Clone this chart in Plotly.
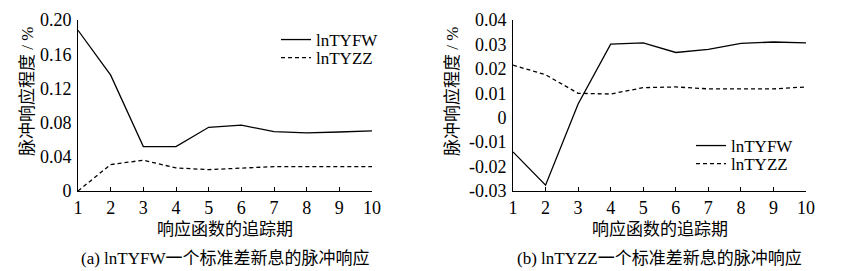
import plotly.graph_objects as go

periods = [1, 2, 3, 4, 5, 6, 7, 8, 9, 10]
# (a) shock from lnTYFW
a_tyfw = [0.188, 0.1355, 0.052, 0.052, 0.0745, 0.077, 0.0695, 0.068, 0.069, 0.0703]
a_tyzz = [0.0, 0.031, 0.036, 0.027, 0.025, 0.0265, 0.0285, 0.0285, 0.0285, 0.0285]
# (b) shock from lnTYZZ
b_tyfw = [-0.014, -0.0276, 0.0056, 0.0301, 0.0306, 0.0267, 0.028, 0.0304, 0.031, 0.0306]
b_tyzz = [0.0215, 0.0176, 0.0100, 0.0097, 0.0123, 0.0126, 0.0118, 0.0118, 0.0118, 0.0126]

a_yticks = [0, 0.04, 0.08, 0.12, 0.16, 0.20]
a_yticktext = ["0", "0.04", "0.08", "0.12", "0.16", "0.20"]
b_yticks = [-0.03, -0.02, -0.01, 0, 0.01, 0.02, 0.03, 0.04]
b_yticktext = ["-0.03", "-0.02", "-0.01", "0", "0.01", "0.02", "0.03", "0.04"]

series_names = ["lnTYFW", "lnTYZZ"]
y_title = "脉冲响应程度 / %"
x_title = "响应函数的追踪期"
captions = ["(a) lnTYFW一个标准差新息的脉冲响应", "(b) lnTYZZ一个标准差新息的脉冲响应"]

FONT = "Liberation Serif, Times New Roman, Noto Sans CJK SC, serif"
OFF = 8  # page body margin
W, H = 842 - OFF, 271 - OFF


def fx(px):
    return (px - OFF) / W


def fy(py):
    return 1 - (py - OFF) / H


dA = [fx(78), fx(372)]
dB = [fx(513), fx(806)]
dY = [fy(191), fy(20)]

fig = go.Figure()
solid = dict(color="black", width=1.3)
dashed = dict(color="black", width=1.3, dash="4px,3px")

fig.add_trace(go.Scatter(x=periods, y=a_tyfw, mode="lines", line=solid, name=series_names[0],
                         xaxis="x", yaxis="y", legend="legend"))
fig.add_trace(go.Scatter(x=periods, y=a_tyzz, mode="lines", line=dashed, name=series_names[1],
                         xaxis="x", yaxis="y", legend="legend2"))
fig.add_trace(go.Scatter(x=periods, y=b_tyfw, mode="lines", line=solid, name=series_names[0],
                         xaxis="x2", yaxis="y2", legend="legend3"))
fig.add_trace(go.Scatter(x=periods, y=b_tyzz, mode="lines", line=dashed, name=series_names[1],
                         xaxis="x2", yaxis="y2", legend="legend4"))

xcommon = dict(range=[1, 10], tickmode="array", tickvals=periods, ticks="inside", ticklen=4,
               tickcolor="black", showline=True, linecolor="black", linewidth=1,
               showgrid=False, zeroline=False, automargin=False,
               tickfont=dict(family=FONT, size=18, color="black"))
ycommon = dict(showline=True, linecolor="black", linewidth=1, showgrid=False, zeroline=False,
               ticks="", automargin=False,
               tickfont=dict(family=FONT, size=18, color="black"), ticklabelstandoff=2)


def leg(px, py):
    return dict(x=fx(px), xanchor="left", y=fy(py), yanchor="middle",
                bgcolor="rgba(0,0,0,0)", font=dict(family=FONT, size=17, color="black"),
                tracegroupgap=0, itemwidth=30, borderwidth=0)


fig.update_layout(
    width=W, height=H, margin=dict(l=0, r=0, t=0, b=0, autoexpand=False),
    paper_bgcolor="white", plot_bgcolor="white",
    xaxis=dict(domain=dA, anchor="y", **xcommon),
    yaxis=dict(domain=dY, anchor="x", range=[0, 0.2], tickmode="array",
               tickvals=a_yticks, ticktext=a_yticktext, **ycommon),
    xaxis2=dict(domain=dB, anchor="y2", **xcommon),
    yaxis2=dict(domain=dY, anchor="x2", range=[-0.03, 0.04], tickmode="array",
                tickvals=b_yticks, ticktext=b_yticktext, **ycommon),
    legend=leg(276, 40),
    legend2=leg(276, 58),
    legend3=leg(691, 146),
    legend4=leg(691, 164),
    showlegend=True,
)

ann_font = dict(family=FONT, size=17, color="black")
for xc, cap in [((dA[0] + dA[1]) / 2, captions[0]), ((dB[0] + dB[1]) / 2, captions[1])]:
    fig.add_annotation(x=xc, y=fy(229), xref="paper", yref="paper", text=x_title,
                       showarrow=False, font=ann_font, xanchor="center", yanchor="middle")
    fig.add_annotation(x=xc, y=fy(258), xref="paper", yref="paper", text=cap,
                       showarrow=False, font=ann_font, xanchor="center", yanchor="middle")
for xp in [27, 452]:
    fig.add_annotation(x=fx(xp), y=fy(92), xref="paper", yref="paper", text=y_title,
                       showarrow=False, font=ann_font, textangle=-90,
                       xanchor="center", yanchor="middle")

fig.write_html("out.html")
